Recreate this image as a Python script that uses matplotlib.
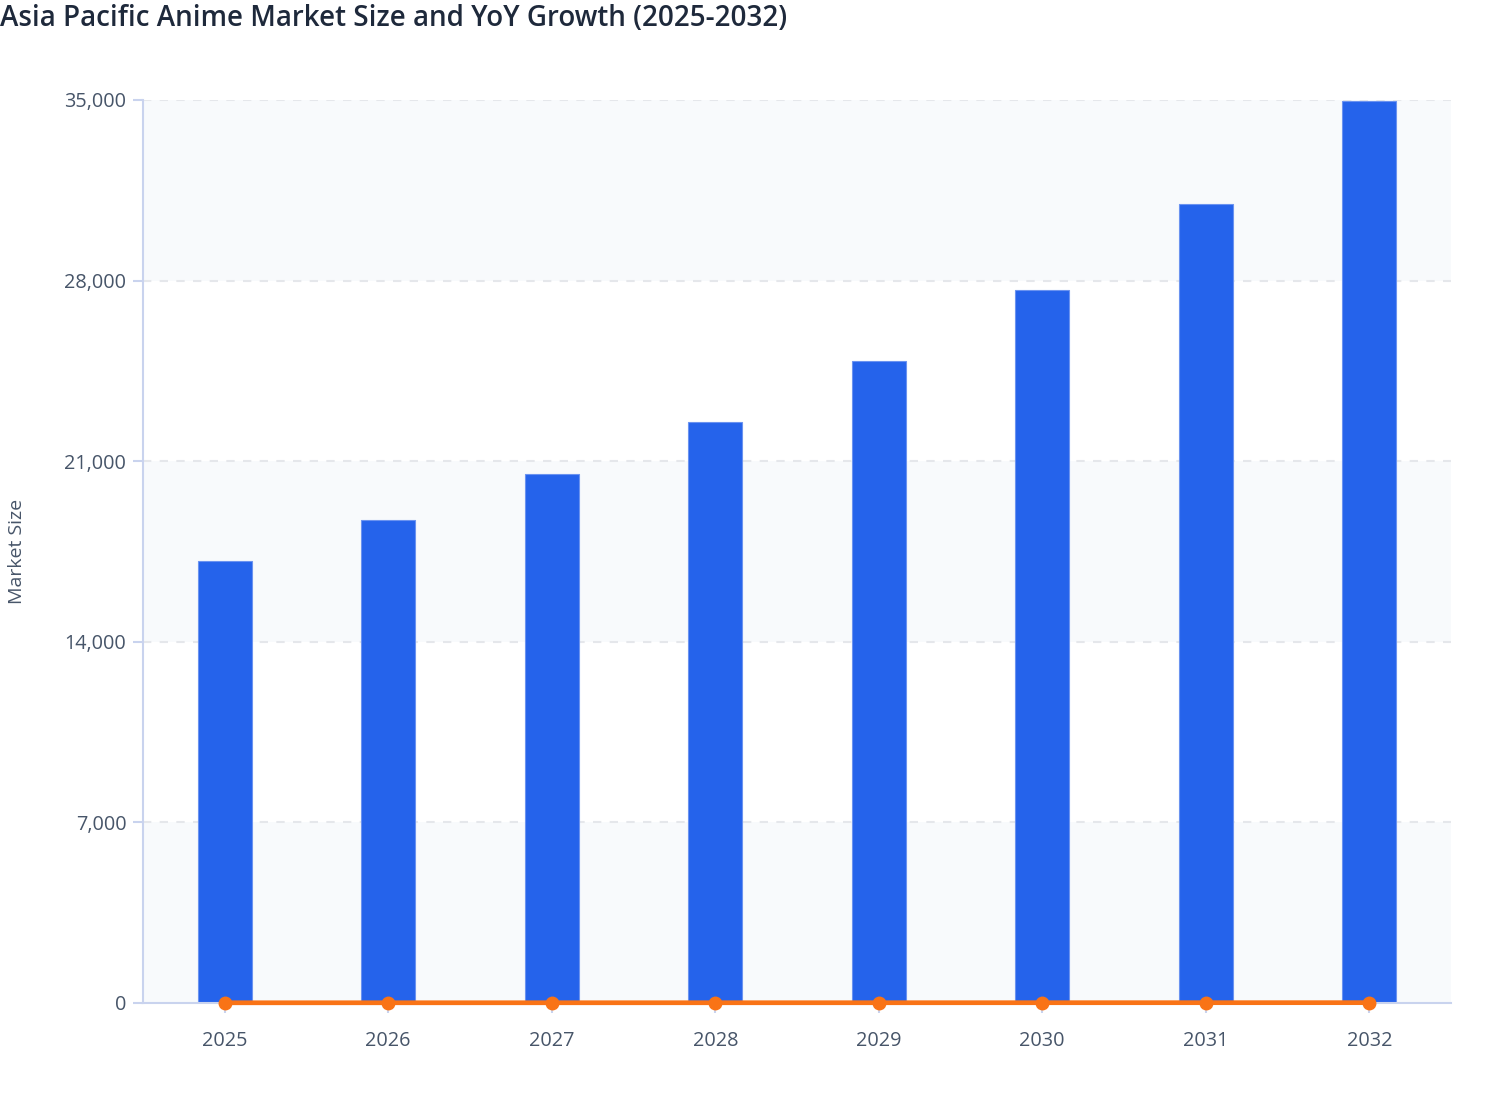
import matplotlib
matplotlib.use("Agg")
import matplotlib.pyplot as plt
from matplotlib.ticker import FuncFormatter, FixedLocator

plt.rcParams['font.family'] = ['Open Sans', 'Noto Sans', 'DejaVu Sans']

years = ["2025", "2026", "2027", "2028", "2029", "2030", "2031", "2032"]
market_size = [17140, 18710, 20500, 22520, 24880, 27650, 30960, 34970]
yoy_growth = [8.5, 9.2, 9.5, 9.9, 10.4, 11.1, 12.0, 13.0]
y_ticks = [0, 7000, 14000, 21000, 28000, 35000]

W, H = 1508, 1120
fig = plt.figure(figsize=(W / 100, H / 100), dpi=100)
ax = fig.add_axes([143 / W, 1 - 1003 / H, (1451 - 143) / W, (1003 - 100) / H])

ax.set_facecolor("white")
x = list(range(len(years)))

# alternating bands
for i in range(len(y_ticks) - 1):
    if i % 2 == 0:
        ax.axhspan(y_ticks[i], y_ticks[i + 1], color="#F8FAFC", zorder=0, lw=0)

for yt in y_ticks[1:]:
    ax.axhline(yt, color="#E5E7EB", lw=1.5, ls=(0, (4, 4)), zorder=0.5)

ax.bar(x, market_size, width=0.33, color="#2563EB", edgecolor="#6B93F0",
       linewidth=0.8, zorder=2)
ax.plot(x, yoy_growth, color="#F97316", lw=3.4, marker="o", markersize=9,
        zorder=4, solid_capstyle="butt", clip_on=False)

ax.set_xlim(-0.5, len(years) - 0.5)
ax.set_ylim(0, 35000)
ax.set_xticks(x)
ax.set_xticklabels(years)
ax.yaxis.set_major_locator(FixedLocator(y_ticks))
ax.yaxis.set_major_formatter(FuncFormatter(lambda v, p: f"{int(v):,}"))

for s in ["top", "right"]:
    ax.spines[s].set_visible(False)
for s in ["left", "bottom"]:
    ax.spines[s].set_color("#C9D3EE")
    ax.spines[s].set_linewidth(1.5)
    ax.spines[s].set_zorder(3)

ax.tick_params(axis="both", colors="#C9D3EE", length=7, width=1.5,
               labelsize=14.3, labelcolor="#475569")
ax.tick_params(axis="x", pad=13)
ax.tick_params(axis="y", pad=5)

ax.set_ylabel("Market Size", fontsize=14, color="#475569")
ax.yaxis.label.set_va("center")
ax.yaxis.set_label_coords(-(143 - 17) / (1451 - 143), 0.5)

fig.text(0.0, 1 - 19 / H, "Asia Pacific Anime Market Size and YoY Growth (2025-2032)",
         ha="left", va="center", fontsize=20, color="#1E293B", fontweight="semibold")

fig.savefig("out.png", dpi=100)
